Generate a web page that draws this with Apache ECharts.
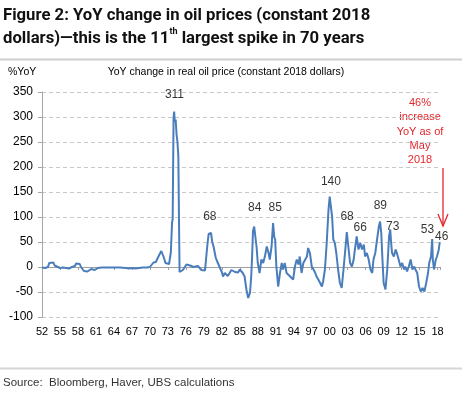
<!DOCTYPE html>
<html><head><meta charset="utf-8">
<script src="https://cdn.jsdelivr.net/npm/echarts@6/dist/echarts.min.js"></script>
<style>html,body{margin:0;padding:0;background:#fff}#c{width:470px;height:393px}</style>
</head><body><div id="c"></div>
<script>
// ---------- data ----------
const BASE_YEAR = 1952;
const years = [
1952.0,1952.5,1953.0,1953.2,1953.5,1953.9,1954.1,1954.4,1955.0,1955.5,1956.0,1956.5,1957.0,1957.5,1957.7,1958.0,1958.3,1958.5,1958.8,1959.0,
1959.3,1959.6,1959.9,1960.2,1960.5,1960.8,1961.0,1961.3,1962.0,1963.0,1964.0,1965.0,1966.0,1966.5,1967.0,1967.6,1968.2,1968.8,1969.5,1970.0,
1970.3,1970.6,1971.0,1971.3,1971.6,1971.9,1972.1,1972.3,1972.6,1972.9,1973.2,1973.5,1973.7,1973.8,1973.95,1974.05,1974.15,1974.3,1974.45,1974.6,
1974.75,1974.85,1974.95,1975.2,1975.5,1975.8,1976.1,1976.4,1976.7,1977.0,1977.3,1977.6,1978.0,1978.3,1978.6,1978.9,1979.2,1979.4,1979.6,1979.8,
1980.0,1980.2,1980.4,1980.6,1980.8,1981.0,1981.2,1981.5,1981.8,1982.0,1982.2,1982.5,1982.8,1983.0,1983.3,1983.6,1983.9,1984.2,1984.4,1984.7,
1985.0,1985.3,1985.5,1985.8,1986.1,1986.4,1986.7,1986.9,1987.05,1987.2,1987.4,1987.6,1987.8,1988.0,1988.3,1988.6,1988.9,1989.2,1989.5,1989.8,
1990.0,1990.3,1990.55,1990.75,1990.9,1991.1,1991.4,1991.7,1992.0,1992.2,1992.5,1992.8,1993.1,1993.4,1993.7,1993.9,1994.2,1994.5,1994.8,1995.0,
1995.3,1995.6,1995.9,1996.2,1996.4,1996.7,1997.0,1997.3,1997.6,1997.8,1998.1,1998.4,1998.7,1998.9,1999.2,1999.5,1999.8,2000.0,2000.2,2000.4,
2000.6,2000.85,2001.1,2001.4,2001.7,2002.0,2002.3,2002.6,2002.85,2003.1,2003.4,2003.7,2004.0,2004.2,2004.5,2004.8,2005.1,2005.4,2005.7,2005.9,
2006.2,2006.5,2006.8,2007.1,2007.3,2007.6,2007.9,2008.2,2008.4,2008.6,2008.8,2009.0,2009.3,2009.6,2009.9,2010.1,2010.25,2010.4,2010.7,2011.0,
2011.2,2011.5,2011.8,2012.1,2012.4,2012.6,2012.9,2013.2,2013.5,2013.8,2014.1,2014.3,2014.6,2014.9,2015.2,2015.5,2015.8,2016.1,2016.4,2016.6,
2016.9,2017.1,2017.2,2017.4,2017.7,2017.9,2018.2,2018.35
];
const yoyChange = [
-1,-2,0,8,10,9,3,-1,-2,-1,-2,-3,0,2,7,8,6,0,-3,-8,
-10,-9,-10,-4,-2,-6,-4,-2,-1,-1,-1,-1,-2,-3,-2,-3,-2,-1,-1,0,
4,9,10,18,25,32,36,20,8,4,6,30,90,95,300,311,290,295,265,250,
220,100,-10,-8,-6,-4,5,8,3,7,0,4,2,0,-6,-10,-7,20,45,66,
70,68,50,42,30,18,12,8,-5,-10,-19,-12,-9,-18,-12,-6,-2,-10,-6,-11,
-5,-8,-12,-19,-45,-62,-52,-20,20,72,81,60,40,8,-12,15,8,22,41,28,
15,41,88,60,55,1,-39,-12,8,-5,8,-12,-15,-19,-22,-25,1,15,5,21,
-12,8,5,21,38,28,1,-5,-12,-19,-25,-32,-39,-29,-5,48,115,141,120,101,
55,48,28,-5,-32,-42,-5,35,70,41,8,1,15,35,61,35,48,35,45,21,
28,15,-5,-12,15,28,55,81,91,68,15,-32,-45,-5,61,75,48,28,21,35,
28,15,1,8,-5,1,-9,1,15,-5,1,-5,-12,-39,-49,-42,-49,-32,-12,8,
21,56,15,-5,15,21,35,50
];
const peakLabels      = ['311','68','84','85','140','68','66','89','73','53','46'];
const peakLabelYears  = [1974.1,1980.0,1987.5,1990.9,2000.2,2002.9,2005.1,2008.45,2010.5,2016.3,2018.7];
const peakLabelValues = [344,100,118,118,170,100,78,122,80,74,60];
const yMin = -100, yMax = 350, yStep = 50;
const xStep = 3, xEnd = 66.4;

// ---------- chart ----------
const chart = echarts.init(document.getElementById('c'), null, {renderer: 'canvas'});
const FONT = 'Liberation Sans';
const lineData = years.map((y, i) => [y - BASE_YEAR, yoyChange[i]]);
const labelData = peakLabels.map((t, i) => [peakLabelYears[i] - BASE_YEAR, peakLabelValues[i], t]);
const fmtYear = v => {
  if (Math.abs(v - Math.round(v)) > 1e-6 || Math.round(v) % xStep !== 0) return '';
  return String((BASE_YEAR + Math.round(v)) % 100).padStart(2, '0');
};
const red = '#e3262b';

chart.setOption({
  animation: false,
  backgroundColor: '#fff',
  textStyle: {fontFamily: FONT},
  title: {
    text: 'Figure 2: YoY change in oil prices (constant 2018\ndollars)\u2014this is the 11{sup|th} largest spike in 70 years',
    left: 3, top: 4, padding: 0,
    textStyle: {
      fontFamily: 'Roboto', fontWeight: 'bold', fontSize: 16.7, lineHeight: 23, color: '#111',
      rich: {sup: {fontFamily: 'Roboto', fontWeight: 'bold', fontSize: 9, lineHeight: 18, verticalAlign: 'top', color: '#111'}}
    }
  },
  grid: {left: 42, right: 30, top: 92, bottom: 76, containLabel: false},
  xAxis: [{
    type: 'value', min: 0, max: xEnd, interval: xStep, position: 'bottom',
    axisLine: {show: false, onZero: false}, axisTick: {show: false}, splitLine: {show: false},
    axisLabel: {formatter: fmtYear, fontSize: 11, color: '#000', margin: 9, fontFamily: FONT}
  }, {
    type: 'value', min: 0, max: xEnd, interval: xStep, position: 'bottom',
    axisLine: {show: true, onZero: true, lineStyle: {color: '#a0a0a0', width: 1}},
    axisTick: {show: true, inside: false, length: 3, lineStyle: {color: '#a0a0a0'}},
    axisLabel: {show: false}, splitLine: {show: false}
  }],
  yAxis: {
    type: 'value', min: yMin, max: yMax, interval: yStep,
    axisLine: {show: true, lineStyle: {color: '#a6a6a6', width: 1}},
    axisTick: {show: true, length: 4, lineStyle: {color: '#a6a6a6'}},
    axisLabel: {fontSize: 12, color: '#000', margin: 9, fontFamily: FONT},
    splitLine: {show: true, lineStyle: {color: '#c8c8c8', type: [4, 3], width: 1}}
  },
  series: [{
    type: 'line', data: lineData, xAxisIndex: 0, showSymbol: false, symbol: 'none',
    lineStyle: {color: '#4a7dbb', width: 2}, z: 3
  }, {
    type: 'scatter', data: labelData, xAxisIndex: 0, symbolSize: 1, clip: false,
    itemStyle: {color: 'transparent'}, z: 4,
    label: {show: true, position: 'inside', formatter: p => p.data[2], fontSize: 12, color: '#000', fontFamily: FONT}
  }],
  graphic: [
    {type: 'rect', shape: {x: 0, y: 58.5, width: 462, height: 2}, style: {fill: '#cfcfcf'}},
    {type: 'rect', shape: {x: 0, y: 367.5, width: 462, height: 2}, style: {fill: '#d6d6d6'}},
    {type: 'text', x: 8, y: 72, style: {text: '%YoY', fontSize: 10.5, fontFamily: FONT, fill: '#000', verticalAlign: 'middle'}},
    {type: 'text', x: 226, y: 72, style: {text: 'YoY change in real oil price (constant 2018 dollars)', fontSize: 10.5, fontFamily: FONT, fill: '#000', align: 'center', verticalAlign: 'middle'}},
    {type: 'text', x: 420, y: 96, style: {text: '46%\nincrease\nYoY as of\nMay\n2018', fontSize: 11, lineHeight: 14.2, fontFamily: FONT, fill: red, align: 'center', verticalAlign: 'top'}},
    {type: 'line', shape: {x1: 443, y1: 168, x2: 443, y2: 226}, style: {stroke: red, lineWidth: 1.3}},
    {type: 'polyline', shape: {points: [[438, 214], [443, 226], [448, 214]]}, style: {stroke: red, lineWidth: 1.3, fill: null}},
    {type: 'text', x: 3, y: 383, style: {text: 'Source:  Bloomberg, Haver, UBS calculations', fontSize: 11.5, fontFamily: FONT, fill: '#333', verticalAlign: 'middle'}}
  ]
});
</script></body></html>
